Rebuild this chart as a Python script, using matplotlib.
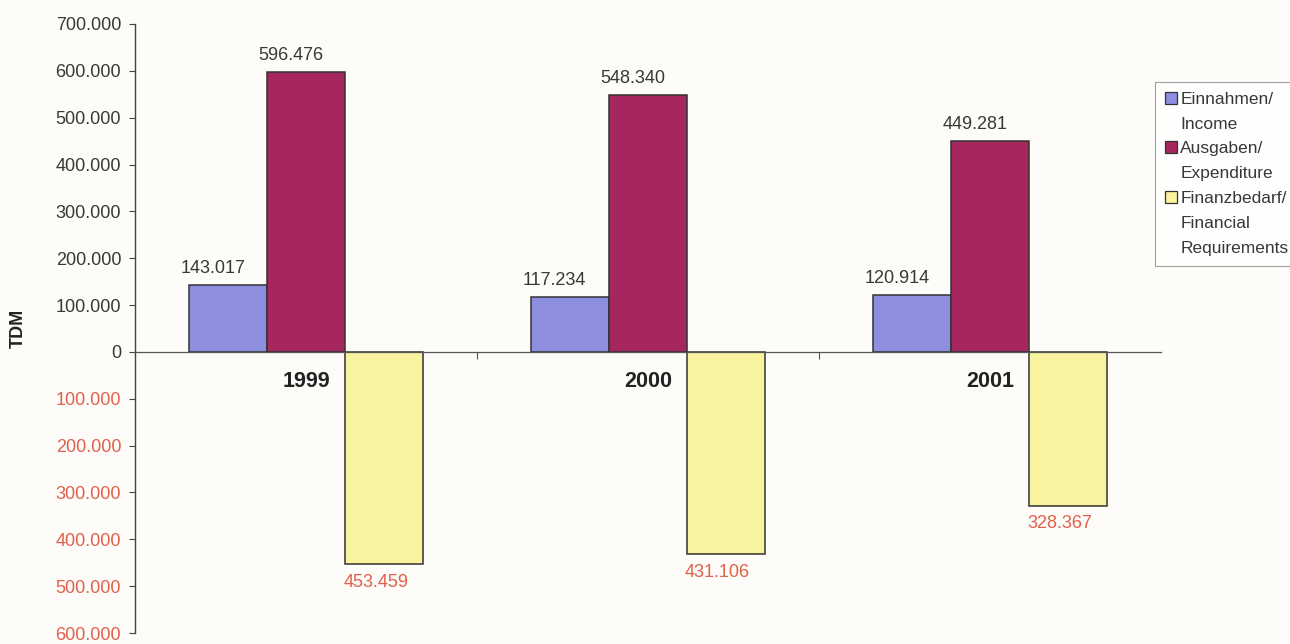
import numpy as np
import matplotlib.pyplot as plt
from matplotlib.patches import Patch

years = ['1999', '2000', '2001']
income = [143.017, 117.234, 120.914]
expenditure = [596.476, 548.340, 449.281]
requirements = [-453.459, -431.106, -328.367]

series_labels = [['Einnahmen/', 'Income'],
                 ['Ausgaben/', 'Expenditure'],
                 ['Finanzbedarf/', 'Financial', 'Requirements']]
colors = ['#8e8ede', '#a6275f', '#f8f39e']
neg_red = '#e0604c'
text_gray = '#383838'

plt.rcParams['font.family'] = ['Liberation Sans', 'DejaVu Sans']

fig = plt.figure(figsize=(12.9, 6.44), dpi=100)
fig.patch.set_facecolor('#fdfcf9')
ax = fig.add_axes([0.1047, 1 - 633 / 644, 0.7953, (633 - 24) / 644])
ax.set_facecolor('none')

x = np.arange(len(years))
w = 0.228
bars = []
for i, (vals, col) in enumerate(zip([income, expenditure, requirements], colors)):
    b = ax.bar(x + (i - 1) * w, vals, w, color=col, edgecolor='#333333', linewidth=1.1, zorder=2)
    bars.append(b)

# value labels: positive above in dark gray, negative below in red without sign
def fmt(v):
    return f'{abs(v):.3f}'

for b in bars[:2]:
    for rect in b:
        h = rect.get_height()
        ax.annotate(fmt(h), (rect.get_x() + rect.get_width() / 2, h),
                    xytext=(-11, 6), textcoords='offset points',
                    ha='center', va='bottom', fontsize=13, color=text_gray)
for rect in bars[2]:
    h = rect.get_height()
    ax.annotate(fmt(h), (rect.get_x() + rect.get_width() / 2, h),
                xytext=(-6, -7), textcoords='offset points',
                ha='center', va='top', fontsize=13, color=neg_red)

for xi, yr in zip(x, years):
    ax.text(xi, -40, yr, ha='center', va='top', fontsize=15.5, fontweight='bold', color='#222222')

ax.set_xlim(-0.5, 2.5)
ax.set_ylim(-600, 700)
yt = np.arange(-600, 701, 100)
ax.set_yticks(yt)
ax.set_yticklabels(['0' if v == 0 else f'{abs(v)}.000' for v in yt], fontsize=13)
for lbl, v in zip(ax.get_yticklabels(), yt):
    lbl.set_color(neg_red if v < 0 else text_gray)

for s in ['top', 'right']:
    ax.spines[s].set_visible(False)
ax.spines['left'].set_color('#444444')
ax.spines['left'].set_linewidth(1.0)
ax.spines['bottom'].set_position(('data', 0))
ax.spines['bottom'].set_color('#555555')
ax.spines['bottom'].set_linewidth(0.9)
ax.set_xticks([0.5, 1.5])
ax.set_xticklabels([])
ax.tick_params(axis='x', direction='out', length=5, color='#555555')
ax.tick_params(axis='y', direction='out', length=4, color='#444444', pad=6)

fig.text(18 / 1290, 1 - 328 / 644, 'TDM', rotation=90, ha='center', va='center',
         fontsize=13, fontweight='bold', color='#222222')

# legend: colour box on the first line of each entry, continuation lines without a box
handles, labels = [], []
for col, lines in zip(colors, series_labels):
    handles.append(Patch(facecolor=col, edgecolor='#333333', linewidth=0.9))
    labels.append(lines[0])
    for extra in lines[1:]:
        handles.append(Patch(visible=False))
        labels.append(extra)

leg = ax.legend(handles, labels, loc='upper left', bbox_to_anchor=(1155 / 1290, 1 - 82 / 644),
                bbox_transform=fig.transFigure, borderaxespad=0, fancybox=False,
                frameon=True, fontsize=12.5, handlelength=0.7, handleheight=0.7,
                handletextpad=0.2, labelspacing=0.56, borderpad=0.55)
leg.get_frame().set_edgecolor('#888888')
leg.get_frame().set_linewidth(0.8)
for t in leg.get_texts():
    t.set_color(text_gray)

fig.savefig('out.png', dpi=100, facecolor=fig.get_facecolor())
